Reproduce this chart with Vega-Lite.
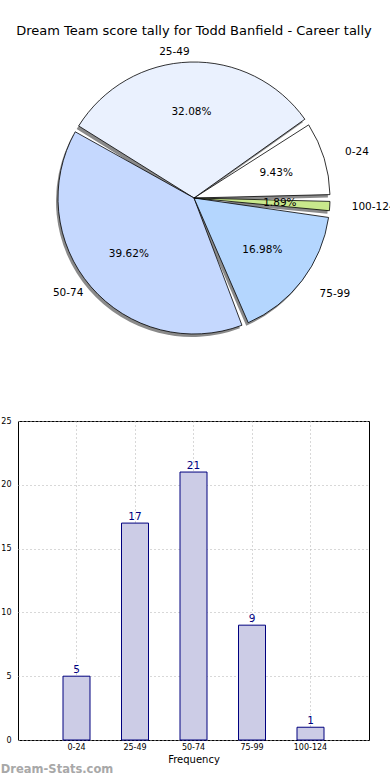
{
  "$schema": "https://vega.github.io/schema/vega-lite/v6.json",
  "padding": {"left": 0, "top": 25, "right": 0, "bottom": 0},
  "spacing": 60,
  "config": {
    "font": "DejaVu Sans",
    "title": {"font": "DejaVu Sans", "fontWeight": "normal"},
    "axis": {"labelFont": "DejaVu Sans", "titleFont": "DejaVu Sans", "titleFontWeight": "normal"}
  },
  "datasets": {
    "tally": [
      {"range": "0-24", "count": 5, "pct": "9.43%", "order": 5},
      {"range": "25-49", "count": 17, "pct": "32.08%", "order": 4},
      {"range": "50-74", "count": 21, "pct": "39.62%", "order": 3},
      {"range": "75-99", "count": 9, "pct": "16.98%", "order": 2},
      {"range": "100-124", "count": 1, "pct": "1.89%", "order": 1}
    ]
  },
  "vconcat": [
    {
      "title": {"text": "Dream Team score tally for Todd Banfield - Career tally", "fontSize": 13, "color": "#000", "offset": -3, "anchor": "middle"},
      "width": 352,
      "height": 316,
      "view": {"stroke": null},
      "data": {"name": "tally"},
      "encoding": {
        "theta": {"field": "count", "type": "quantitative", "stack": true, "scale": {"range": [1.5708, 7.854]}},
        "order": {"field": "order", "type": "quantitative"}
      },
      "layer": [
        {
          "mark": {"type": "arc", "radius": 136, "padAngle": 0.05, "fill": "#8a8a8a", "xOffset": -2, "yOffset": 3}
        },
        {
          "mark": {"type": "arc", "radius": 136, "padAngle": 0.05, "stroke": "#000", "strokeWidth": 0.8},
          "encoding": {
            "color": {"field": "range", "type": "nominal", "legend": null,
              "scale": {"domain": ["0-24", "25-49", "50-74", "75-99", "100-124"], "range": ["#ffffff", "#eaf1fe", "#c5d8fe", "#b4d6fe", "#c9e88c"]}}
          }
        },
        {
          "mark": {"type": "text", "radius": 86, "fontSize": 10.5, "color": "#000"},
          "encoding": {"text": {"field": "pct"}}
        },
        {
          "mark": {"type": "text", "radius": 158, "fontSize": 10.5, "align": "left", "color": "#000"},
          "encoding": {"text": {"condition": {"test": "datum.order <= 2 || datum.order == 5", "field": "range"}, "value": ""}}
        },
        {
          "mark": {"type": "text", "radius": 146, "fontSize": 10.5, "align": "right", "color": "#000"},
          "encoding": {"text": {"condition": {"test": "datum.order == 3 || datum.order == 4", "field": "range"}, "value": ""}}
        }
      ]
    },
    {
      "width": 351,
      "height": 319,
      "view": {"stroke": "#000", "strokeWidth": 1},
      "title": {"text": "Dream-Stats.com", "orient": "bottom", "anchor": "start", "frame": "bounds", "font": "DejaVu Sans", "fontWeight": "bold", "fontSize": 11.5, "color": "#a8a8a8", "offset": 0},
      "data": {"name": "tally"},
      "encoding": {
        "x": {"field": "range", "type": "nominal", "sort": ["0-24", "25-49", "50-74", "75-99", "100-124"],
          "scale": {"paddingInner": 0, "paddingOuter": 0.5},
          "axis": {"title": "Frequency", "titleFontSize": 10, "titleColor": "#000", "titlePadding": 3, "labelFontSize": 8, "labelColor": "#000", "labelAngle": 0, "labelPadding": 3, "ticks": false, "domain": false, "grid": true, "bandPosition": 0.5, "gridColor": "#b0b0b0", "gridDash": [1, 3], "gridWidth": 1}},
        "y": {"field": "count", "type": "quantitative", "scale": {"domain": [0, 25]},
          "axis": {"title": null, "values": [0, 5, 10, 15, 20, 25], "labelFontSize": 8, "labelColor": "#000", "labelPadding": 7, "ticks": false, "domain": false, "grid": true, "gridColor": "#b0b0b0", "gridDash": [1, 3], "gridWidth": 1}}
      },
      "layer": [
        {"mark": {"type": "bar", "width": 27, "fill": "#ccccE6", "stroke": "#00007f", "strokeWidth": 1}},
        {"mark": {"type": "text", "dy": -6, "fontSize": 10.5, "color": "#00007f"}, "encoding": {"text": {"field": "count"}}}
      ]
    }
  ]
}
